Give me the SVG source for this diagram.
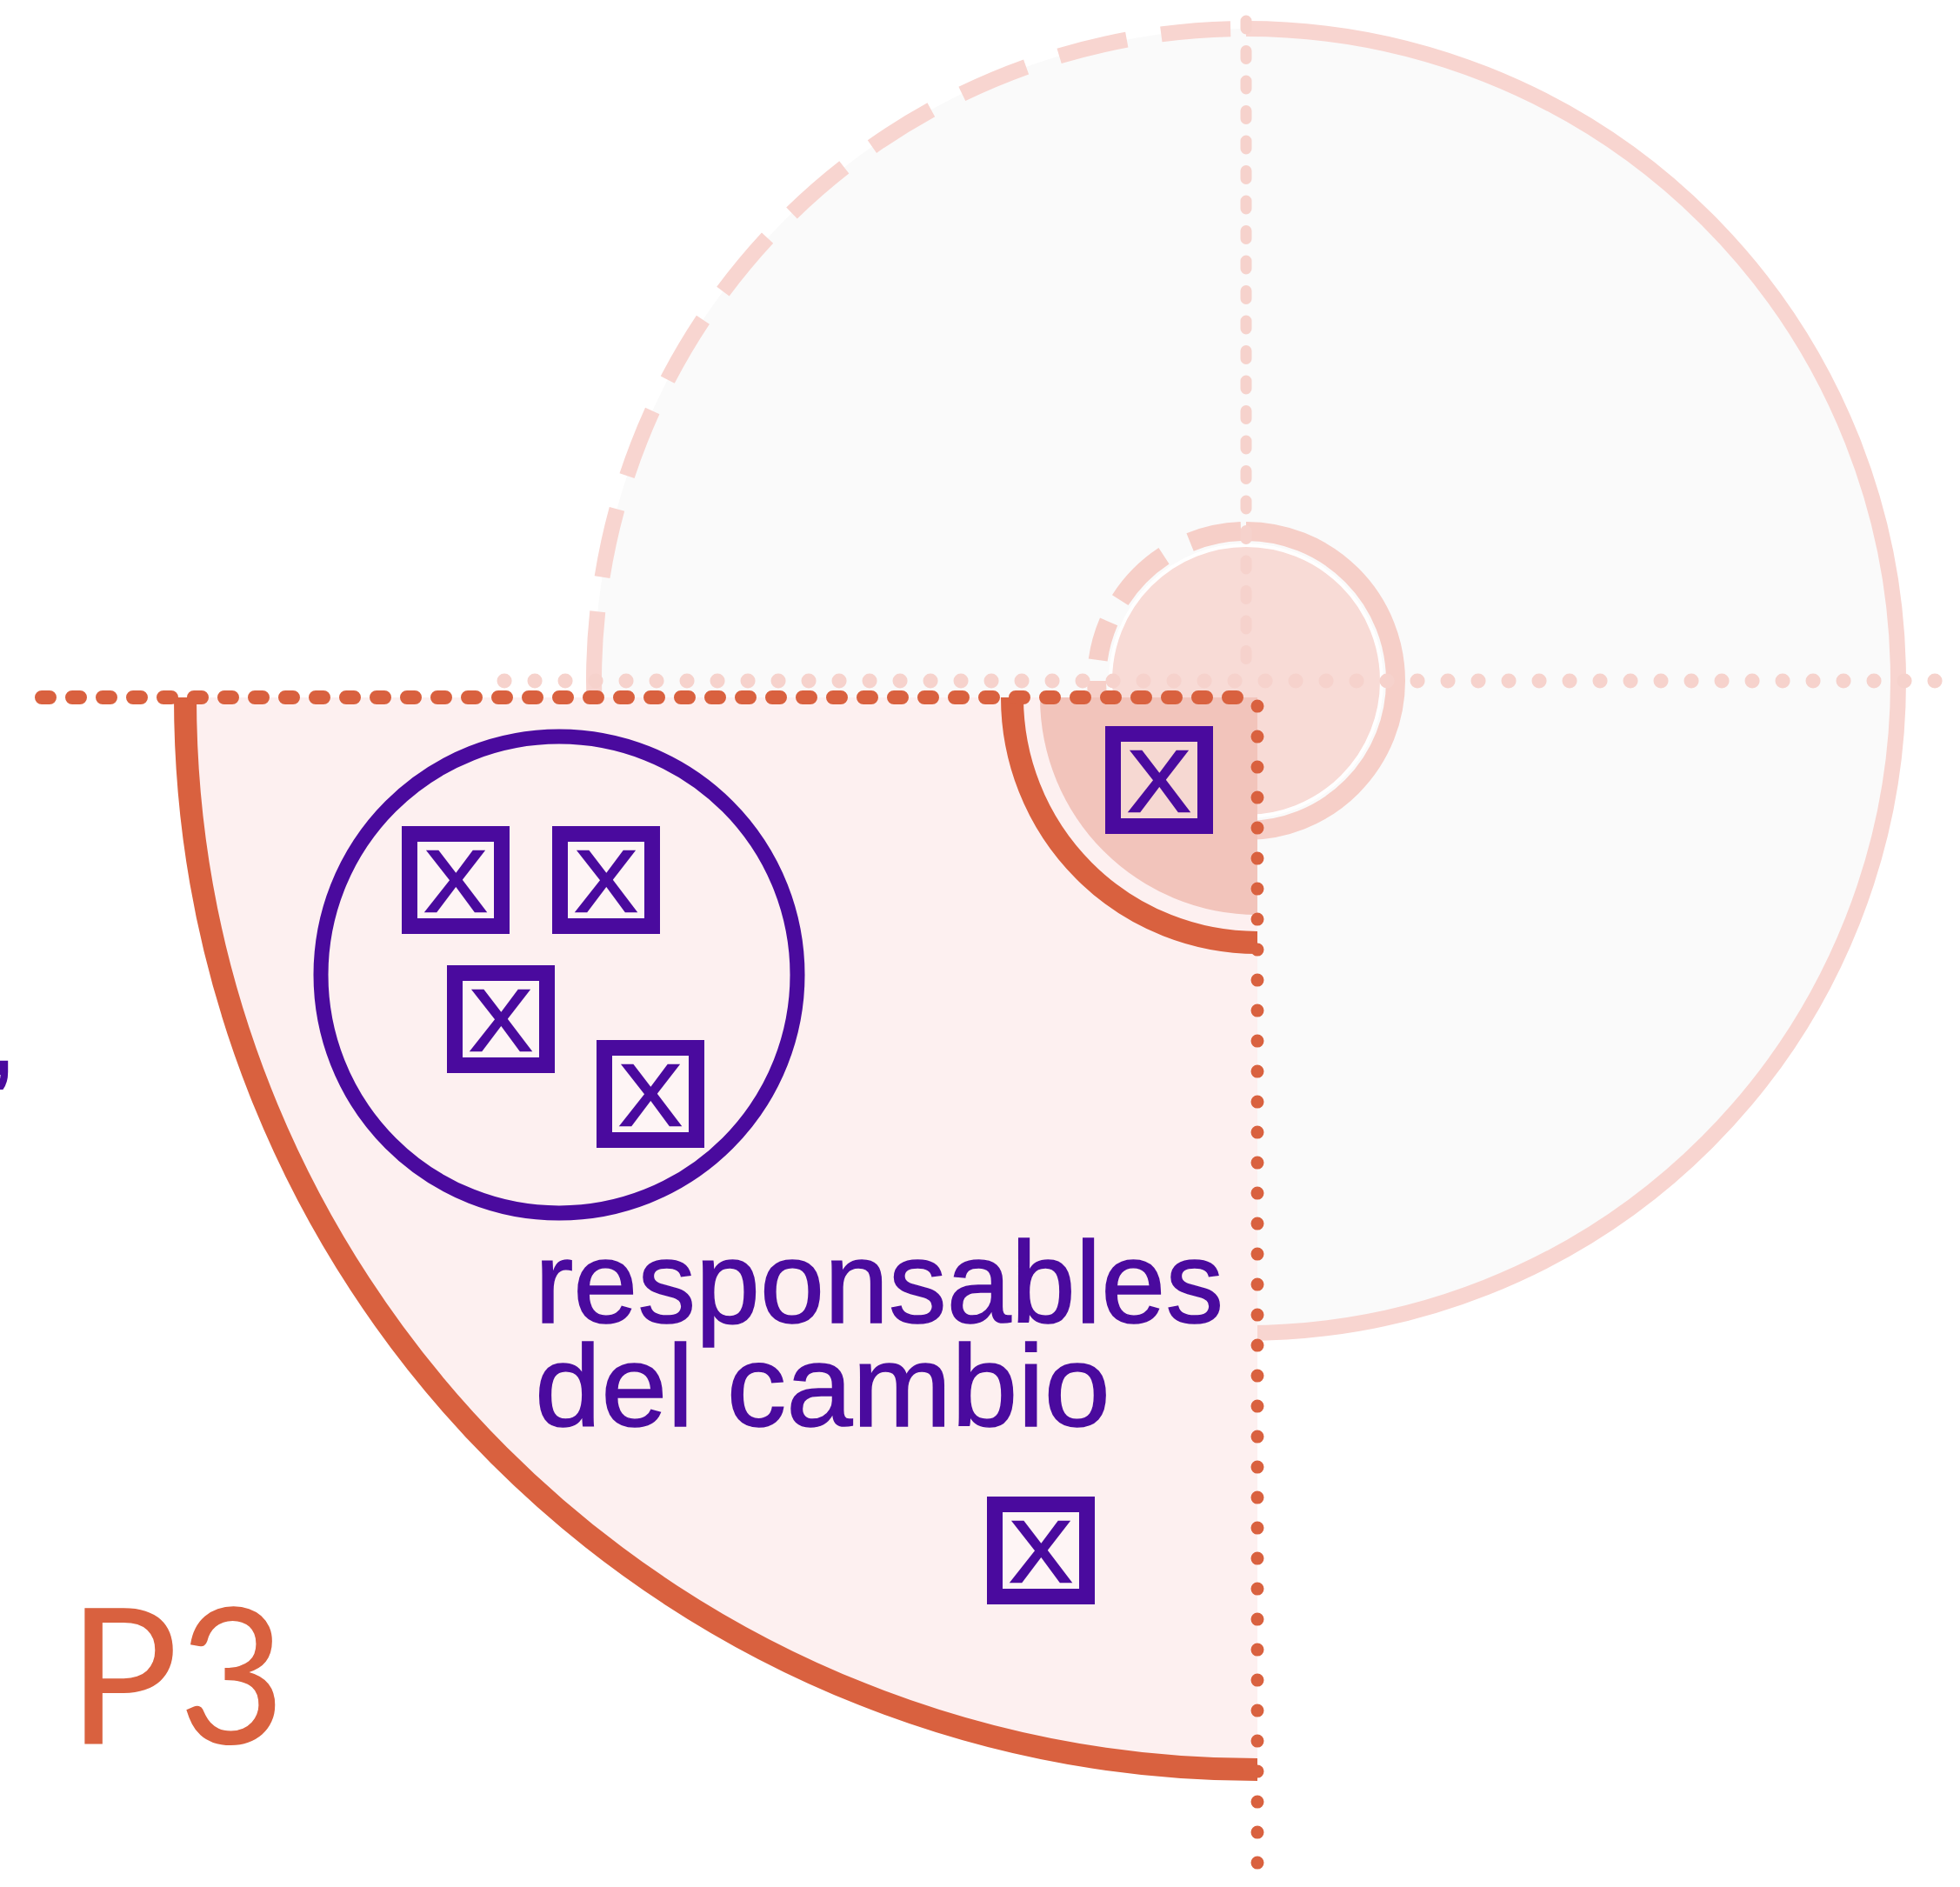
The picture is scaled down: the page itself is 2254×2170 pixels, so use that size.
<svg xmlns="http://www.w3.org/2000/svg" width="2254" height="2170" viewBox="0 0 2254 2170">
<defs>
<style>
.faint{fill:none;stroke:#f8d5d0;stroke-width:18}
.fdot{fill:none;stroke:#f6d2cc;stroke-linecap:round}
.odot{fill:none;stroke:#d9613f;stroke-linecap:round}
.oarc{fill:none;stroke:#d9613f;stroke-width:26}
.box rect{fill:#ffffff;fill-opacity:0.35;stroke:#4a0a9e;stroke-width:18}
.box text{font-family:"Liberation Sans",Arial,sans-serif;font-size:100px;fill:#4a0a9e;stroke:#4a0a9e;stroke-width:2.5;text-anchor:middle}
.lbl{font-family:"Liberation Sans",Arial,sans-serif;font-size:134px;fill:#4a0a9e;stroke:#4a0a9e;stroke-width:1.5}
</style>
</defs>
<rect width="2254" height="2170" fill="#ffffff"/>
<g id="background-circle">
<circle cx="1433" cy="783" r="750" fill="#fafafa"/>
<path class="faint" d="M1433,33 A750,750 0 1 1 683,783"/>
<path class="faint" d="M683,783 A750,750 0 0 1 1433,33" stroke-dasharray="80 40"/>
</g>
<g id="center-circle">
<circle cx="1433" cy="783" r="156" fill="#f8dbd6" stroke="#ffffff" stroke-width="4"/>
<path fill="none" stroke="#f6cfc8" stroke-width="22" d="M1433,611 A172,172 0 1 1 1261,783"/>
<path fill="none" stroke="#f6cfc8" stroke-width="22" d="M1433,611 A172,172 0 0 0 1261,783" stroke-dasharray="0 6 60 34 72 28 46 60"/>
</g>
<g id="axes">
<line class="fdot" x1="1433" y1="24" x2="1433" y2="783" stroke-width="13" stroke-dasharray="9 25.5"/>
<line class="fdot" x1="580" y1="783" x2="2228" y2="783" stroke-width="17" stroke-dasharray="0.1 34.9"/>
</g>
<g id="p3-sector">
<path d="M1446,802 L213,802 A1233,1233 0 0 0 1446,2035 Z" fill="#fdf0f0"/>
<path d="M1446,802 L1196,802 A250,250 0 0 0 1446,1052 Z" fill="#f2c4bb"/>
<path class="oarc" d="M1164,802 A282,282 0 0 0 1446,1084"/>
<path class="oarc" d="M213,802 A1233,1233 0 0 0 1446,2035"/>
</g>
<g id="connectors">
<line class="odot" x1="48" y1="802" x2="1446" y2="802" stroke-width="16" stroke-dasharray="9 26"/>
<line class="odot" x1="1446" y1="812" x2="1446" y2="2170" stroke-width="15" stroke-dasharray="0.1 34.9"/>
</g>
<g id="group-circle">
<circle cx="643" cy="1121" r="274" fill="none" stroke="#4a0a9e" stroke-width="17"/>
</g>
<g id="box-a" class="box"><rect x="471" y="959" width="106" height="106"/><text x="524" y="1048" textLength="72" lengthAdjust="spacingAndGlyphs">X</text></g>
<g id="box-b" class="box"><rect x="644" y="959" width="106" height="106"/><text x="697" y="1048" textLength="72" lengthAdjust="spacingAndGlyphs">X</text></g>
<g id="box-c" class="box"><rect x="523" y="1119" width="106" height="106"/><text x="576" y="1208" textLength="72" lengthAdjust="spacingAndGlyphs">X</text></g>
<g id="box-d" class="box"><rect x="695" y="1205" width="106" height="106"/><text x="748" y="1294" textLength="72" lengthAdjust="spacingAndGlyphs">X</text></g>
<g id="box-e" class="box"><rect x="1280" y="844" width="106" height="106"/><text x="1333" y="933" textLength="72" lengthAdjust="spacingAndGlyphs">X</text></g>
<g id="box-f" class="box"><rect x="1144" y="1730" width="106" height="106"/><text x="1197" y="1819" textLength="72" lengthAdjust="spacingAndGlyphs">X</text></g>
<g id="label">
<text class="lbl" x="615" y="1521" textLength="792" lengthAdjust="spacingAndGlyphs">responsables</text>
<text class="lbl" x="615" y="1640" textLength="662" lengthAdjust="spacingAndGlyphs">del cambio</text>
</g>
<text x="-14" y="1236" font-family="Liberation Sans,Arial,sans-serif" font-size="110" font-weight="bold" fill="#4a0a9e">,</text>
<text id="p3" x="78" y="2005" font-family="Lato,'Liberation Sans',sans-serif" font-size="218" fill="#d9613f" textLength="250" lengthAdjust="spacingAndGlyphs">P3</text>
</svg>
